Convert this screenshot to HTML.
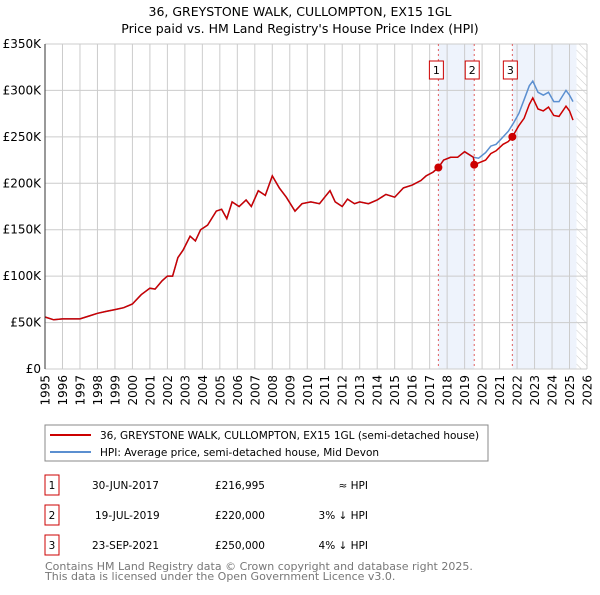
<!DOCTYPE html>
<html><head><meta charset="utf-8"><style>
body{margin:0;background:#fff;font-family:"Liberation Sans","DejaVu Sans",sans-serif;}
svg text{font-family:"DejaVu Sans","Liberation Sans",sans-serif;}
</style></head><body>
<svg id="c" width="600" height="590" xmlns="http://www.w3.org/2000/svg">
<defs><pattern id="hatch" width="6" height="6" patternUnits="userSpaceOnUse" patternTransform="rotate(-45)"><line x1="0" y1="0" x2="0" y2="6" stroke="#ccc" stroke-width="1"/></pattern></defs>
<text x="300" y="16" text-anchor="middle" font-size="12.5">36, GREYSTONE WALK, CULLOMPTON, EX15 1GL</text>
<text x="300" y="33" text-anchor="middle" font-size="12.5">Price paid vs. HM Land Registry's House Price Index (HPI)</text>
<g id="plot"></g>
<rect x="45" y="425" width="443" height="36" fill="#fff" stroke="#888"/>
<line x1="50" y1="435" x2="91" y2="435" stroke="#cc0000" stroke-width="2"/>
<text x="100" y="439" font-size="10.5">36, GREYSTONE WALK, CULLOMPTON, EX15 1GL (semi-detached house)</text>
<line x1="50" y1="452" x2="91" y2="452" stroke="#5b8fd0" stroke-width="2"/>
<text x="100" y="456" font-size="10.5">HPI: Average price, semi-detached house, Mid Devon</text>
<g id="table" font-size="10.5"></g>
<text x="45" y="570" font-size="11" fill="#777">Contains HM Land Registry data © Crown copyright and database right 2025.</text>
<text x="45" y="580" font-size="11" fill="#777">This data is licensed under the Open Government Licence v3.0.</text>
</svg>
<script>
const hpiYears=[1995,1995.5,1996,1996.5,1997,1997.5,1998,1998.5,1999,1999.5,2000,2000.5,2001,2001.3,2001.7,2002,2002.3,2002.6,2002.9,2003.3,2003.6,2003.9,2004.3,2004.8,2005.1,2005.4,2005.7,2006.1,2006.5,2006.8,2007.2,2007.6,2008,2008.4,2008.8,2009.3,2009.7,2010.2,2010.7,2011,2011.3,2011.6,2012,2012.3,2012.7,2013,2013.5,2014,2014.5,2015,2015.5,2016,2016.5,2016.8,2017.2,2017.5,2017.8,2018.2,2018.6,2019,2019.5,2019.8,2020.2,2020.5,2020.8,2021.2,2021.5,2021.8,2022.1,2022.4,2022.7,2022.9,2023.2,2023.5,2023.8,2024.1,2024.4,2024.8,2025.0,2025.2];
const hpiValues=[56,53,54,54,54,57,60,62,64,66,70,80,87,86,95,100,100,120,128,143,138,150,155,170,172,162,180,175,182,175,192,187,208,195,185,170,178,180,178,185,192,180,175,183,178,180,178,182,188,185,195,198,203,208,212,217,225,228,228,234,228,227,233,240,242,250,256,265,275,290,305,310,298,295,298,288,288,300,295,288];
const propYears=[2019.55,2019.8,2020.2,2020.5,2020.8,2021.2,2021.5,2021.73,2022.1,2022.4,2022.7,2022.9,2023.2,2023.5,2023.8,2024.1,2024.4,2024.8,2025.0,2025.2];
const propValues=[220,222,225,232,235,242,245,250,262,270,285,292,280,278,282,273,272,283,278,268];
const saleYears=[2017.5,2019.55,2021.73];
const saleValues=[216.995,220,250];
const saleLabels=["1","2","3"];
const saleDates=["30-JUN-2017","19-JUL-2019","23-SEP-2021"];
const salePrices=["£216,995","£220,000","£250,000"];
const saleRel=["≈ HPI","3% ↓ HPI","4% ↓ HPI"];
const yTicks=[0,50,100,150,200,250,300,350];
const yTickLabels=["£0","£50K","£100K","£150K","£200K","£250K","£300K","£350K"];
const xTicks=[1995,1996,1997,1998,1999,2000,2001,2002,2003,2004,2005,2006,2007,2008,2009,2010,2011,2012,2013,2014,2015,2016,2017,2018,2019,2020,2021,2022,2023,2024,2025,2026];

const NS="http://www.w3.org/2000/svg";
const X=y=>45+(y-1995)*(542/31);
const Y=v=>369-v*(325/350);
const plot=document.getElementById('plot');
function mk(tag,at,parent){const e=document.createElementNS(NS,tag);for(const k in at)e.setAttribute(k,at[k]);(parent||plot).appendChild(e);return e;}
let e;
e=mk('rect',{x:X(saleYears[0]),y:Y(350),width:X(saleYears[1])-X(saleYears[0]),height:Y(0)-Y(350),fill:'#eef3fc'});


e=mk('rect',{x:X(saleYears[2]),y:Y(350),width:X(2025.4)-X(saleYears[2]),height:Y(0)-Y(350),fill:'#eef3fc'});


e=mk('rect',{x:X(2025.4),y:Y(350),width:X(2026)-X(2025.4),height:Y(0)-Y(350),fill:'url(#hatch)'});


yTicks.forEach((v,i)=>{
 e=mk('line',{x1:45,x2:587,y1:Y(v),y2:Y(v),stroke:'#ccc'});
 
 
 e=mk('text',{x:41,y:Y(v)+4,'text-anchor':'end','font-size':12});e.textContent=yTickLabels[i];
 
 
});
xTicks.forEach(y=>{
 e=mk('line',{x1:X(y),x2:X(y),y1:Y(350),y2:Y(0),stroke:'#ccc'});
 
 
 e=mk('text',{x:0,y:0,'text-anchor':'end','font-size':12,transform:'translate('+(X(y)+4.5)+',375) rotate(-90)'});e.textContent=y;
 
 
});
saleYears.forEach((y,i)=>{
 e=mk('line',{x1:X(y),x2:X(y),y1:Y(350),y2:Y(0),stroke:'#e06060','stroke-dasharray':'2,3'});
 
 
 e=mk('rect',{x:X(y)-9,y:61,width:14,height:18,fill:'#fff',stroke:'#cc0000'});
 
 
 e=mk('text',{x:X(y)-2,y:74,'text-anchor':'middle','font-size':11});e.textContent=saleLabels[i];
 
 
});
const pts=(xs,vs)=>xs.map((x,i)=>X(x).toFixed(1)+','+Y(vs[i]).toFixed(1)).join(' ');
e=mk('polyline',{points:pts(hpiYears,hpiValues),fill:'none',stroke:'#5b8fd0','stroke-width':1.5});


const redX=hpiYears.filter(y=>y<2019.55).concat(propYears);
const redV=hpiValues.filter((v,i)=>hpiYears[i]<2019.55).concat(propValues);
e=mk('polyline',{points:pts(redX,redV),fill:'none',stroke:'#cc0000','stroke-width':1.5});


saleYears.forEach((y,i)=>{
 e=mk('circle',{cx:X(y),cy:Y(saleValues[i]),r:4,fill:'#cc0000'});
 
 
});
e=mk('line',{x1:45,x2:45,y1:Y(350),y2:Y(0),stroke:'#333'});


const tb=document.getElementById('table');
saleYears.forEach((y,i)=>{
 const ry=475+i*30;
 e=mk('rect',{x:45,y:ry,width:14,height:20,fill:'#fff',stroke:'#cc0000'},tb);
 
 
 e=mk('text',{x:52,y:ry+14,'text-anchor':'middle'},tb);e.textContent=saleLabels[i];
 
 
 e=mk('text',{x:92+(i==1?3:0),y:ry+14},tb);e.textContent=saleDates[i];
 
 
 e=mk('text',{x:265,y:ry+14,'text-anchor':'end'},tb);e.textContent=salePrices[i];
 
 
 e=mk('text',{x:368,y:ry+14,'text-anchor':'end'},tb);e.textContent=saleRel[i];
 
 
});
</script>
</body></html>
